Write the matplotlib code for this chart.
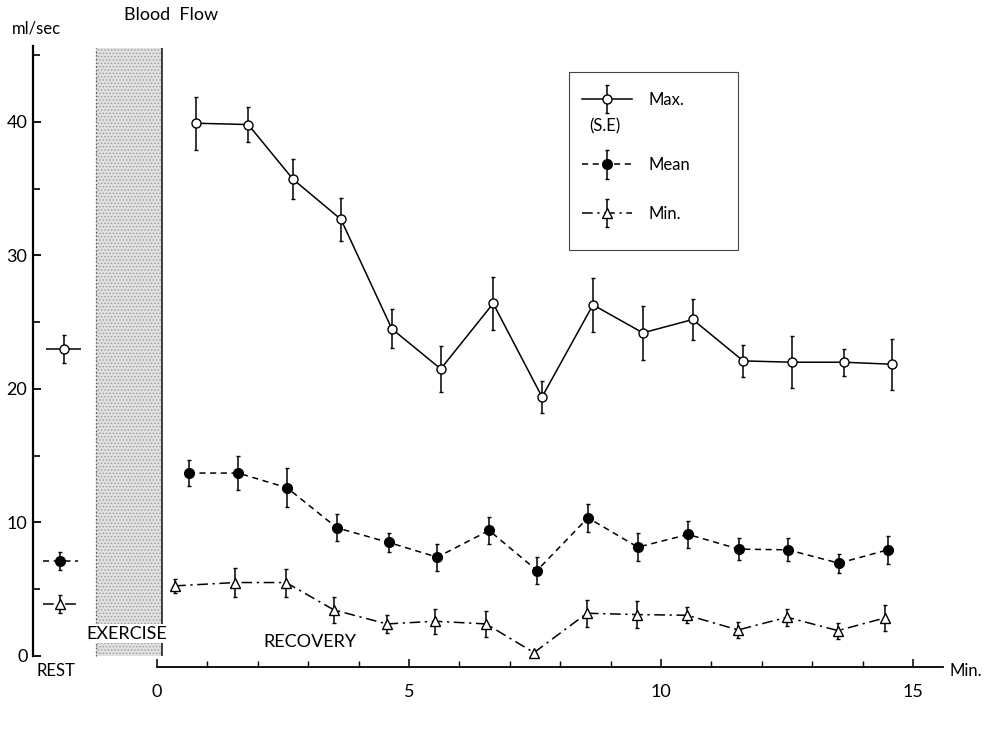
import numpy as np
import matplotlib
matplotlib.use("Agg")
import matplotlib.pyplot as plt
from matplotlib.patches import Rectangle
from matplotlib.container import ErrorbarContainer
from matplotlib.legend_handler import HandlerErrorbar

plt.rcParams['font.family'] = ['Lato', 'DejaVu Sans']
plt.rcParams['hatch.color'] = '#8a8a8a'
plt.rcParams['hatch.linewidth'] = 0.6

# recovery time (min) - each series sits slightly offset in the original drawing
t_max = [0.77, 1.81, 2.70, 3.65, 4.66, 5.63, 6.67, 7.64, 8.65, 9.64, 10.63, 11.63, 12.60, 13.63, 14.58]
t_mean = [0.63, 1.61, 2.58, 3.57, 4.60, 5.56, 6.59, 7.54, 8.55, 9.54, 10.54, 11.55, 12.52, 13.53, 14.50]
t_min = [0.36, 1.55, 2.56, 3.51, 4.56, 5.52, 6.53, 7.48, 8.53, 9.52, 10.52, 11.53, 12.50, 13.51, 14.44]

# blood flow (ml/sec) and standard errors
flow_max = [39.9, 39.8, 35.7, 32.7, 24.5, 21.5, 26.4, 19.4, 26.3, 24.2, 25.2, 22.1, 22.0, 22.0, 21.85]
se_max = [2.0, 1.3, 1.5, 1.6, 1.45, 1.7, 2.0, 1.2, 2.0, 2.0, 1.5, 1.2, 1.95, 1.0, 1.9]
flow_mean = [13.7, 13.7, 12.6, 9.6, 8.5, 7.4, 9.4, 6.4, 10.35, 8.15, 9.1, 8.0, 7.95, 6.95, 7.95]
se_mean = [1.0, 1.25, 1.45, 1.0, 0.7, 1.0, 1.0, 1.0, 1.05, 1.05, 1.0, 0.8, 0.85, 0.7, 1.05]
flow_min = [5.25, 5.5, 5.5, 3.45, 2.4, 2.6, 2.4, 0.25, 3.2, 3.1, 3.05, 1.95, 2.9, 1.9, 2.85]
se_min = [0.55, 1.1, 1.05, 1.0, 0.65, 0.95, 1.0, 0.0, 1.0, 1.0, 0.6, 0.6, 0.65, 0.6, 1.0]

# resting values (Max, Mean, Min)
rest_x = [-1.85, -1.92, -1.92]
rest_flow = [23.0, 7.1, 3.9]
rest_se = [1.05, 0.65, 0.65]
rest_half = 0.35

exercise_start, exercise_end = -1.2, 0.1

styles = [
    dict(marker='o', mfc='white', ms=6.5, ls='-', label='Max.'),
    dict(marker='o', mfc='black', ms=7, ls=(0, (4, 3)), label='Mean'),
    dict(marker='^', mfc='white', ms=7, ls=(0, (7, 3, 1.5, 3)), label='Min.'),
]

fig = plt.figure(figsize=(9.96, 7.29), dpi=100)
ax = fig.add_axes([0.0311, 0.0727, 0.921, 0.870])
ax.set_xlim(-2.5, 15.7)
ax.set_ylim(-1.5, 46)

# exercise band
ax.fill_between([exercise_start, exercise_end], 0, 45.5, facecolor='#e0e0e0',
                hatch='.....', edgecolor='#9a9a9a', linewidth=0, zorder=1)
ax.vlines([exercise_start], 0, 45.5, colors='#555', linestyles=':', lw=1)
ax.vlines([exercise_end], 0, 45.5, colors='#222', lw=1.2)

handles = []
for t, y, se, st in zip([t_max, t_mean, t_min], [flow_max, flow_mean, flow_min],
                        [se_max, se_mean, se_min], styles):
    eb = ax.errorbar(t, y, yerr=se, color='black', mec='black', lw=1.1,
                     elinewidth=1.1, capsize=1.5, capthick=1, zorder=3, **st)
    handles.append(eb)

# resting points
for i, st in enumerate(styles):
    ax.hlines(rest_flow[i], rest_x[i] - rest_half, rest_x[i] + rest_half,
              colors='black', lw=1.1, linestyles=st['ls'])
    ax.errorbar(rest_x[i], rest_flow[i], yerr=rest_se[i], color='black', mec='black',
                marker=st['marker'], mfc=st['mfc'], ms=st['ms'], ls='none',
                elinewidth=1.1, capsize=1.5, capthick=1, zorder=3)

# axes
for s in ['top', 'right']:
    ax.spines[s].set_visible(False)
ax.spines['left'].set_position(('data', -2.46))
ax.spines['left'].set_bounds(0, 45.7)
ax.spines['left'].set_linewidth(1.6)
ax.spines['bottom'].set_position(('data', -0.82))
ax.spines['bottom'].set_bounds(0, 15.6)
ax.spines['bottom'].set_linewidth(1.3)

ax.set_yticks([0, 10, 20, 30, 40])
ax.set_yticks([5, 15, 25, 35, 45], minor=True)
ax.set_xticks([0, 5, 10, 15])
ax.set_xticks(range(16), minor=True)
ax.tick_params(axis='y', which='major', direction='in', length=6, width=1.3, pad=4, labelsize=13)
ax.tick_params(axis='y', which='minor', direction='in', length=5, width=1.2)
ax.tick_params(axis='x', which='major', direction='in', length=6, width=1.1, pad=12, labelsize=13)
ax.tick_params(axis='x', which='minor', direction='in', length=4, width=1.0)

# labels
ax.text(-2.4, 47.0, 'ml/sec', ha='center', va='center', fontsize=12)
ax.text(0.28, 48.0, 'Blood  Flow', ha='center', va='center', fontsize=13)
ax.text(-2.0, -1.15, 'REST', ha='center', va='center', fontsize=12)
ax.text(-0.6, 1.65, 'EXERCISE', ha='center', va='center', fontsize=13, zorder=4,
        bbox=dict(facecolor='white', edgecolor='none', pad=1))
ax.text(3.04, 1.05, 'RECOVERY', ha='center', va='center', fontsize=13)
ax.text(15.73, -1.1, 'Min.', ha='left', va='center', fontsize=12)

# legend box drawn separately so its size matches the original;
# Max sits alone (with the S.E note below it), Mean/Min share a second legend
ax.add_patch(Rectangle((0.586, 0.672), 0.185, 0.281, transform=ax.transAxes,
                       facecolor='white', edgecolor='#444', lw=0.8, zorder=4))
leg_kw = dict(loc='upper left', fontsize=12, frameon=False, borderpad=0, borderaxespad=0,
              handlelength=3.0, handletextpad=1.0,
              handler_map={ErrorbarContainer: HandlerErrorbar(yerr_size=0.85)})
leg1 = ax.legend(handles=handles[:1], bbox_to_anchor=(0.601, 0.921), **leg_kw)
leg1.set_zorder(5)
ax.add_artist(leg1)
leg2 = ax.legend(handles=handles[1:], bbox_to_anchor=(0.601, 0.818), labelspacing=1.95, **leg_kw)
leg2.set_zorder(5)
ax.text(0.626, 0.866, '(S.E)', transform=ax.transAxes, ha='center', va='center',
        fontsize=12, zorder=6)

fig.savefig('out.png', dpi=100)
